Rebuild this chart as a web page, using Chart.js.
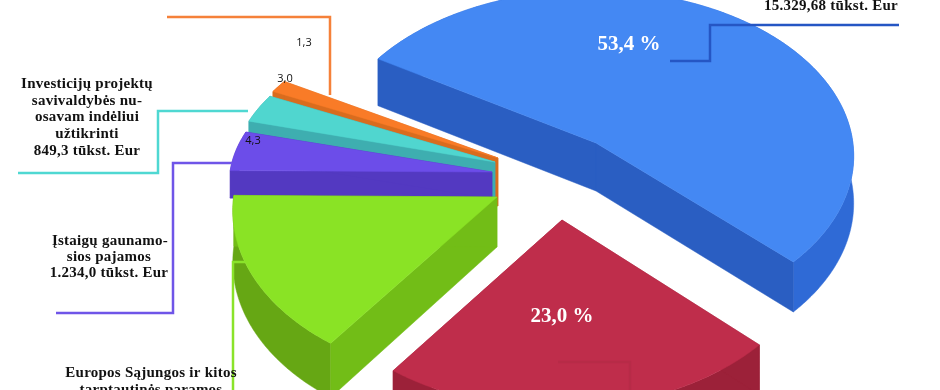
<!DOCTYPE html>
<html>
<head>
<meta charset="utf-8">
<title>Pajamos</title>
<script src="https://cdn.jsdelivr.net/npm/chart.js@4/dist/chart.umd.js"></script>
<style>
  html, body { margin: 0; padding: 0; background: #fff; }
  canvas { display: block; }
</style>
</head>
<body>
<canvas id="myChart" width="940" height="390"></canvas>
<script>
// values (percent)
const categories = [
  '15.329,68 tūkst. Eur',
  '23,0 %',
  'Europos Sąjungos ir kitos tarptautinės paramos',
  'Įstaigų gaunamosios pajamos',
  'Investicijų projektų savivaldybės nuosavam indėliui užtikrinti',
  '1,3 %'
];
const shares = [53.4, 23.0, 15.0, 4.3, 3.0, 1.3];

// slice styling
const topColors = ['#4488f3', '#bf2d4b', '#8ae325', '#6c4de9', '#50d6cf', '#f97b27'];
const cutColors = ['#2a5ec2', '#9c2139', '#72bd17', '#5339c1', '#3eaeb0', '#d96c1e'];
const rimColors = ['#2f6ad6', '#9c2139', '#66a714', '#5339c1', '#3eaeb0', '#d96c1e'];
const originX = [596, 562, 497, 492, 495, 498];
const originY = [143, 220, 197, 172, 162, 158];
const stretch = [1, 1, 0.985, 0.98, 0.98, 0.98];
const squash = [1, 1.05, 1.02, 0.88, 0.9, 0.91];
const sliceDepth = [48, 48, 50, 27, 35, 48];
const paintOrder = [0, 5, 4, 3, 2, 1];

// fake 3d view
const radiusX = 262;
const radiusY = 165;
const perspectiveY = 0.08;
const perspectiveX = -0.02;

// leader lines [color, points]
const leaders = [
  ['#2556c4', [[670, 61], [710, 61], [710, 25], [899, 25]]],
  ['#f5813a', [[167, 17], [330, 17], [330, 95]]],
  ['#4fd8d2', [[248, 111], [158, 111], [158, 173], [18, 173]]],
  ['#6f55e8', [[232, 163], [173, 163], [173, 313], [56, 313]]],
  ['#8ae32a', [[245, 262], [233, 262], [233, 392]]],
  ['#b72b47', [[558, 362], [630, 362], [630, 392]]]
];

// black callout texts [center x, baseline y, text]
const callouts = [
  [87, 88, 'Investicijų projektų'],
  [87, 105, 'savivaldybės nu-'],
  [87, 121, 'osavam indėliui'],
  [87, 138, 'užtikrinti'],
  [87, 155, '849,3 tūkst. Eur'],
  [110, 245, 'Įstaigų gaunamo-'],
  [109, 261, 'sios pajamos'],
  [109, 277, '1.234,0 tūkst. Eur'],
  [151, 377, 'Europos Sąjungos ir kitos'],
  [151, 394, 'tarptautinės paramos'],
  [831, 10, '15.329,68 tūkst. Eur']
];
const whiteLabels = [[629, 50, '53,4 %'], [562, 322, '23,0 %']];
const smallLabels = [[304, 46, '1,3'], [285, 82, '3,0'], [253, 144, '4,3']];

function project(i, angle, r, drop) {
  const x = Math.cos(angle) * r;
  const y = Math.sin(angle) * r;
  const w = 1 / (1 - perspectiveY * y - perspectiveX * x);
  return [originX[i] + radiusX * stretch[i] * x * w, originY[i] + radiusY * squash[i] * y * w + drop * w];
}

function fillPoly(ctx, pts, color) {
  ctx.fillStyle = color;
  ctx.strokeStyle = color;
  ctx.lineWidth = 0.5;
  ctx.beginPath();
  pts.forEach((p, n) => n ? ctx.lineTo(p[0], p[1]) : ctx.moveTo(p[0], p[1]));
  ctx.closePath();
  ctx.fill();
  ctx.stroke();
}

function drawSlice(ctx, arc, i) {
  const start = arc.startAngle;
  const end = arc.endAngle;
  const steps = Math.max(2, Math.ceil((end - start) / 0.01));
  const rimTop = [];
  const rimBottom = [];
  for (let s = 0; s <= steps; s++) {
    const a = start + (end - start) * s / steps;
    rimTop.push(project(i, a, 1, 0));
    rimBottom.push(project(i, a, 1, sliceDepth[i]));
  }
  const apex = project(i, 0, 0, 0);
  const apexLow = project(i, 0, 0, sliceDepth[i]);
  // outer rim, then cut faces, then top
  fillPoly(ctx, rimTop.concat(rimBottom.slice().reverse()), rimColors[i]);
  fillPoly(ctx, [apex, rimTop[0], rimBottom[0], apexLow], cutColors[i]);
  fillPoly(ctx, [apex, rimTop[steps], rimBottom[steps], apexLow], cutColors[i]);
  fillPoly(ctx, [apex].concat(rimTop), topColors[i]);
}

const pie3d = {
  id: 'pie3d',
  beforeDatasetDraw(chart, args) {
    const ctx = chart.ctx;
    const arcs = args.meta.data;
    ctx.save();
    paintOrder.forEach(i => drawSlice(ctx, arcs[i], i));
    ctx.restore();
    return false;
  },
  afterDraw(chart) {
    const ctx = chart.ctx;
    ctx.save();
    ctx.lineWidth = 2.5;
    ctx.lineJoin = 'miter';
    leaders.forEach(l => {
      ctx.strokeStyle = l[0];
      ctx.beginPath();
      l[1].forEach((p, n) => n ? ctx.lineTo(p[0], p[1]) : ctx.moveTo(p[0], p[1]));
      ctx.stroke();
    });
    ctx.textAlign = 'center';
    ctx.textBaseline = 'alphabetic';
    ctx.fillStyle = '#111';
    ctx.font = 'bold 15px "Liberation Serif"';
    ctx.letterSpacing = '0.25px';
    callouts.forEach(t => ctx.fillText(t[2], t[0], t[1]));
    ctx.letterSpacing = '0px';
    ctx.fillStyle = '#fff';
    ctx.font = 'bold 21px "Liberation Serif"';
    whiteLabels.forEach(t => ctx.fillText(t[2], t[0], t[1]));
    ctx.fillStyle = '#111';
    ctx.font = '11px "Open Sans"';
    smallLabels.forEach(t => ctx.fillText(t[2], t[0], t[1]));
    ctx.restore();
  }
};

new Chart(document.getElementById('myChart'), {
  type: 'pie',
  data: {
    labels: categories,
    datasets: [{ data: shares, backgroundColor: topColors, borderWidth: 0 }]
  },
  options: {
    responsive: false,
    animation: false,
    rotation: 301.5,
    events: [],
    plugins: { legend: { display: false }, tooltip: { enabled: false } }
  },
  plugins: [pie3d]
});
</script>
</body>
</html>
